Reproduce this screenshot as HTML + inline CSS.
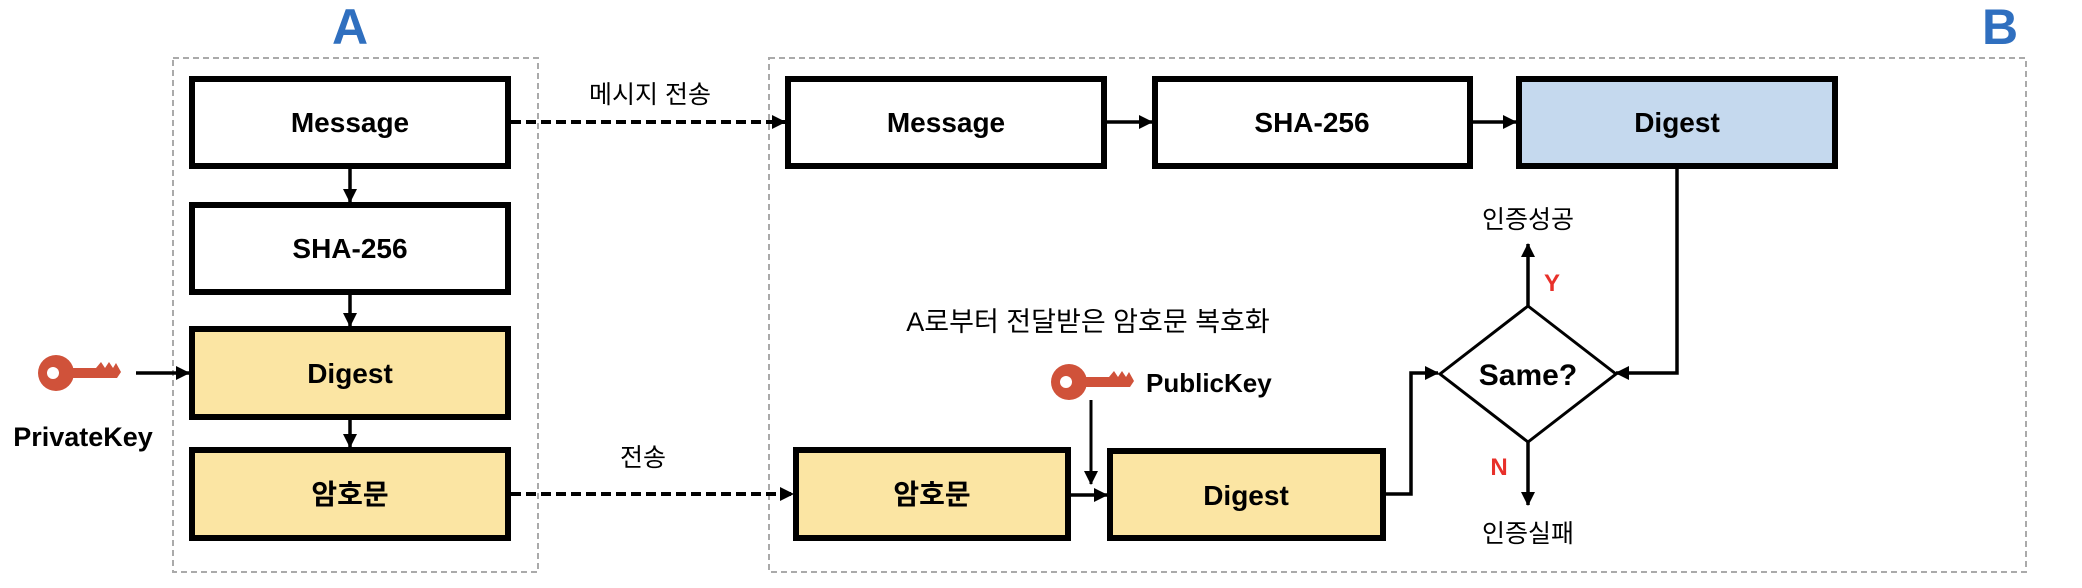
<!DOCTYPE html>
<html><head><meta charset="utf-8"><style>
html,body{margin:0;padding:0;background:#fff;}
svg{display:block;}
text{font-family:"Liberation Sans","Noto Sans CJK KR",sans-serif;}
</style></head><body>
<svg width="2082" height="588" viewBox="0 0 2082 588" xmlns="http://www.w3.org/2000/svg">
<defs>
<marker id="ah" markerWidth="14" markerHeight="14" refX="13" refY="7" orient="auto" markerUnits="userSpaceOnUse">
<path d="M0,0 L14,7 L0,14 z" fill="#000"/></marker>
<g id="key">
<circle cx="0" cy="0" r="18" fill="#d0523a"/>
<circle cx="-3" cy="0" r="6" fill="#fff"/>
<path d="M12,-5 L40,-5 L45,-11 L49,-5 L53,-11 L57,-5 L60,-10 L65,-1 L61,5 L12,5 z" fill="#d0523a"/>
</g>
</defs>
<text x="350" y="44" font-size="50" font-weight="bold" fill="#2f6fbf" text-anchor="middle">A</text>
<text x="2000" y="44" font-size="50" font-weight="bold" fill="#2f6fbf" text-anchor="middle">B</text>
<rect x="173" y="58" width="365" height="514" fill="none" stroke="#aaa" stroke-width="2" stroke-dasharray="6,4"/>
<rect x="769" y="58" width="1257" height="514" fill="none" stroke="#aaa" stroke-width="2" stroke-dasharray="6,4"/>
<g stroke="#000" stroke-width="6">
<rect x="192" y="79" width="316" height="87" fill="#fff"/>
<rect x="192" y="205" width="316" height="87" fill="#fff"/>
<rect x="192" y="329" width="316" height="88" fill="#fbe5a3"/>
<rect x="192" y="450" width="316" height="88" fill="#fbe5a3"/>
<rect x="788" y="79" width="316" height="87" fill="#fff"/>
<rect x="1155" y="79" width="315" height="87" fill="#fff"/>
<rect x="1519" y="79" width="316" height="87" fill="#c5d9ee"/>
<rect x="796" y="450" width="272" height="88" fill="#fbe5a3"/>
<rect x="1110" y="451" width="273" height="87" fill="#fbe5a3"/>
</g>
<g font-size="28" font-weight="bold" text-anchor="middle" fill="#000">
<text x="350" y="132">Message</text>
<text x="350" y="258">SHA-256</text>
<text x="350" y="383">Digest</text>
<text x="350" y="504">암호문</text>
<text x="946" y="132">Message</text>
<text x="1312" y="132">SHA-256</text>
<text x="1677" y="132">Digest</text>
<text x="932" y="504">암호문</text>
<text x="1246" y="505">Digest</text>
</g>
<g stroke="#000" stroke-width="3.5" fill="none">
<line x1="350" y1="169" x2="350" y2="202" marker-end="url(#ah)"/>
<line x1="350" y1="295" x2="350" y2="326" marker-end="url(#ah)"/>
<line x1="350" y1="420" x2="350" y2="447" marker-end="url(#ah)"/>
<line x1="136" y1="373" x2="189" y2="373" marker-end="url(#ah)"/>
<line x1="511" y1="122" x2="785" y2="122" stroke-dasharray="10,5" stroke-width="4" marker-end="url(#ah)"/>
<line x1="511" y1="494" x2="793" y2="494" stroke-dasharray="10,5" stroke-width="4" marker-end="url(#ah)"/>
<line x1="1107" y1="122" x2="1152" y2="122" marker-end="url(#ah)"/>
<line x1="1473" y1="122" x2="1516" y2="122" marker-end="url(#ah)"/>
<line x1="1071" y1="495" x2="1107" y2="495" marker-end="url(#ah)"/>
<line x1="1091" y1="400" x2="1091" y2="484" stroke-width="3" marker-end="url(#ah)"/>
<polyline points="1386,494 1411,494 1411,373 1438,373" marker-end="url(#ah)"/>
<polyline points="1677,168 1677,373 1616,373" marker-end="url(#ah)"/>
<line x1="1528" y1="306" x2="1528" y2="244" marker-end="url(#ah)"/>
<line x1="1528" y1="442" x2="1528" y2="505" marker-end="url(#ah)"/>
</g>
<polygon points="1528,306 1616,374 1528,442 1440,374" fill="#fff" stroke="#000" stroke-width="3"/>
<text x="1528" y="385" font-size="30" font-weight="bold" text-anchor="middle">Same?</text>
<text x="1552" y="291" font-size="24" font-weight="bold" fill="#e8302a" text-anchor="middle">Y</text>
<text x="1499" y="475" font-size="24" font-weight="bold" fill="#e8302a" text-anchor="middle">N</text>
<g font-size="25" fill="#000" text-anchor="middle">
<text x="1528" y="228">인증성공</text>
<text x="1528" y="542">인증실패</text>
<text x="650" y="103">메시지 전송</text>
<text x="643" y="466">전송</text>
<text x="1088" y="331" font-size="27">A로부터 전달받은 암호문 복호화</text>
</g>
<use href="#key" x="56" y="373"/>
<use href="#key" x="1069" y="382"/>
<text x="83" y="446" font-size="27" font-weight="bold" text-anchor="middle">PrivateKey</text>
<text x="1146" y="392" font-size="26" font-weight="bold">PublicKey</text>
</svg>
</body></html>
